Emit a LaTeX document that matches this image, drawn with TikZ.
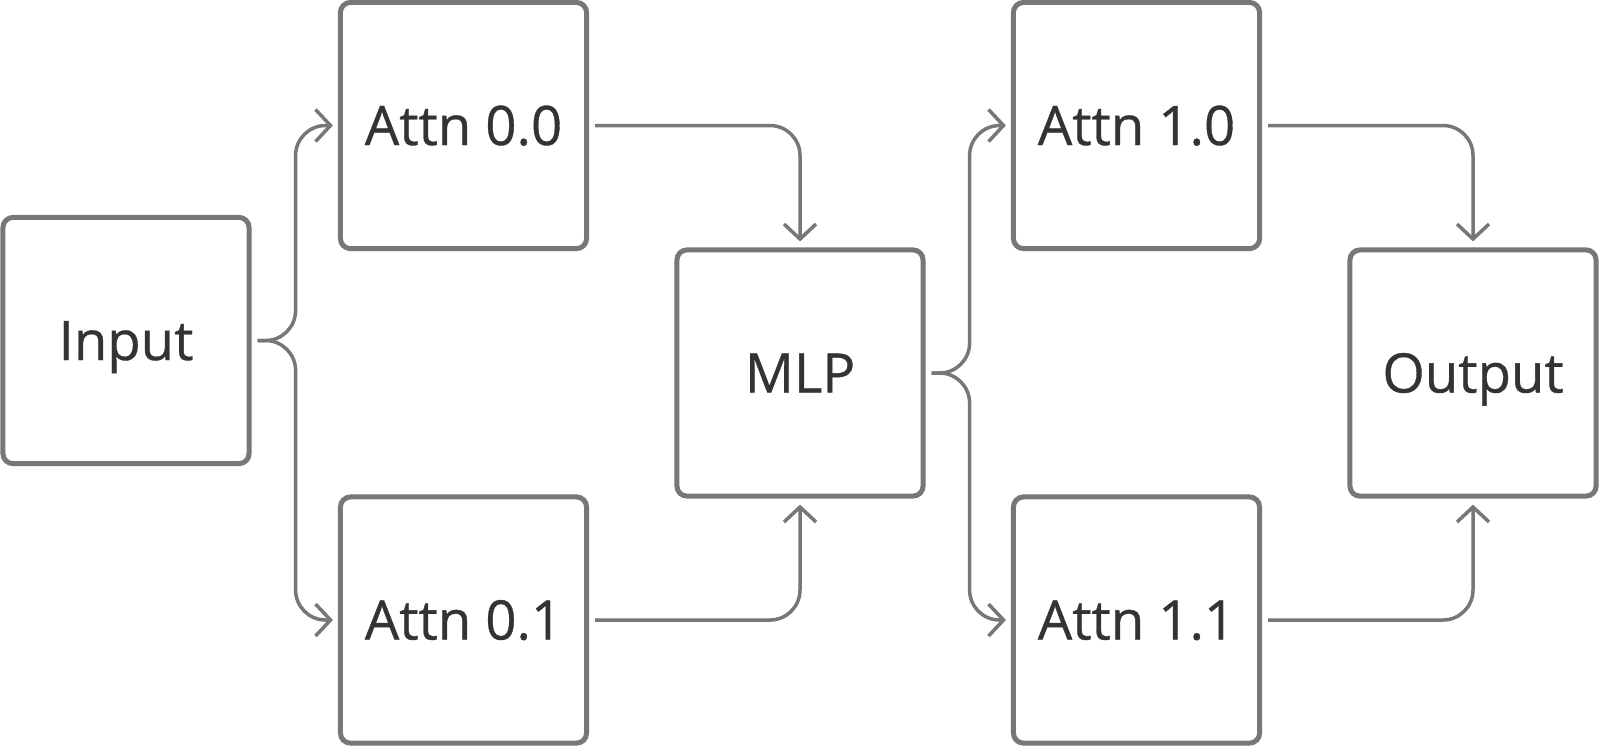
\documentclass[tikz,border=0pt]{standalone}
\usepackage{fontspec}
\setmainfont{Open Sans}
\newfontfamily\lbl{Open Sans}[FakeBold=0.6]
\usetikzlibrary{arrows.meta}
\definecolor{edge}{HTML}{777777}
\definecolor{ink}{HTML}{333333}
\tikzset{
  blk/.style={draw=edge, line width=0.05cm, rounded corners=0.1cm, fill=white,
    minimum width=2.46cm, minimum height=2.46cm, inner sep=0pt,
    text=ink, font=\lbl\fontsize{15.5}{18}\selectfont,
    text height=11.1pt, text depth=0pt},
  conn/.style={draw=edge, line width=0.035cm, rounded corners=0.3cm,
    -{Straight Barb[length=0.15cm,width=0.32cm]}},
}
\begin{document}
\begin{tikzpicture}[x=0.01cm,y=-0.01cm]
\useasboundingbox (0,0) rectangle (1600,747);
\node[blk] (inp) at (126,340.5) {Input};
\node[blk] (a00) at (463.5,125.5) {Attn 0.0};
\node[blk] (a01) at (463.5,620) {Attn 0.1};
\node[blk] (mlp) at (800,373) {MLP};
\node[blk] (a10) at (1136.5,125.5) {Attn 1.0};
\node[blk] (a11) at (1136.5,620) {Attn 1.1};
\node[blk] (out) at (1473,373) {Output};

\coordinate (s1) at ([xshift=0.44cm]inp.east);
\coordinate (s2) at ([xshift=0.44cm]mlp.east);

\draw[conn] ([xshift=0.06cm]inp.east) -- (s1) |- ([xshift=-0.05cm]a00.west);
\draw[conn] ([xshift=0.06cm]inp.east) -- (s1) |- ([xshift=-0.05cm]a01.west);
\draw[conn] ([xshift=0.06cm]a00.east) -| ([yshift=0.06cm]mlp.north);
\draw[conn] ([xshift=0.06cm]a01.east) -| ([yshift=-0.06cm]mlp.south);
\draw[conn] ([xshift=0.06cm]mlp.east) -- (s2) |- ([xshift=-0.05cm]a10.west);
\draw[conn] ([xshift=0.06cm]mlp.east) -- (s2) |- ([xshift=-0.05cm]a11.west);
\draw[conn] ([xshift=0.06cm]a10.east) -| ([yshift=0.06cm]out.north);
\draw[conn] ([xshift=0.06cm]a11.east) -| ([yshift=-0.06cm]out.south);
\end{tikzpicture}
\end{document}
